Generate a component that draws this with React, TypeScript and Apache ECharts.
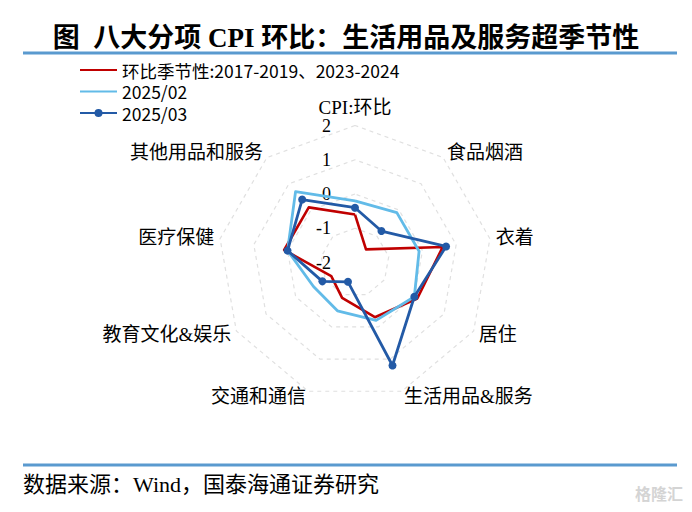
import { useEffect, useRef } from "react";
import * as echarts from "echarts";

// indicators clockwise from the top, as in the source figure
const indicatorNames = [
  "CPI:环比",
  "食品烟酒",
  "衣着",
  "居住",
  "生活用品&服务",
  "交通和通信",
  "教育文化&娱乐",
  "医疗保健",
  "其他用品和服务",
];
const seriesNames = ["环比季节性:2017-2019、2023-2024", "2025/02", "2025/03"];
const seasonal = [-0.6, -1.5, 0.6, 0.1, -0.3, -0.9, -1.2, 0.1, 0.1];
const feb2025 = [-0.2, -0.1, -0.1, 0.0, -0.2, -0.5, -0.6, 0.0, 0.7];
const mar2025 = [-0.4, -0.8, 0.7, 0.0, 1.2, -1.4, -0.9, 0.0, 0.4];
const axisTicks = [-2, -1, 0, 1, 2];

const SERIF = "'Liberation Serif', 'Noto Sans CJK SC', serif";
const NARROW = "'Liberation Sans Narrow', 'Noto Sans CJK SC', sans-serif";
const RED = "#c00000";
const LIGHT = "#62bbe8";
const DARK = "#235aa6";
const RULE = "#5a9acf";

// echarts lays radar indicators out counter-clockwise, so flip the order after the first
const order = [0, 8, 7, 6, 5, 4, 3, 2, 1];
const pick = <T,>(arr: T[]) => order.map((i) => arr[i]);

const lineIcon = "path://M0,0 L0.01,0 L0,0.01 Z M0,3.5 L37,3.5 L37,5.5 L0,5.5 Z M37,9 L36.99,9 L37,8.99 Z";
const dotIcon =
  "path://M0,0 L0.01,0 L0,0.01 Z M0,3.5 L37,3.5 L37,5.5 L0,5.5 Z M14.5,4.5 A4,4 0 1 1 22.5,4.5 A4,4 0 1 1 14.5,4.5 Z M37,9 L36.99,9 L37,8.99 Z";

export default function App() {
  const ref = useRef<HTMLDivElement>(null);

  useEffect(() => {
    document.body.style.margin = "0";
    const el = ref.current;
    if (!el) return;
    const chart = echarts.init(el, undefined, { renderer: "svg" });
    chart.setOption({
      animation: false,
      backgroundColor: "#fff",
      title: {
        text: "图  八大分项 CPI 环比：生活用品及服务超季节性",
        left: "center",
        top: 19,
        textStyle: { fontFamily: SERIF, fontWeight: "bold", fontSize: 27, color: "#000" },
      },
      legend: {
        orient: "vertical",
        left: 75,
        top: 56,
        itemWidth: 37,
        itemHeight: 9,
        itemGap: 3.5,
        textStyle: { fontFamily: NARROW, fontSize: 17.5, color: "#000", lineHeight: 18 },
        data: [
          { name: seriesNames[0], icon: lineIcon },
          { name: seriesNames[1], icon: lineIcon },
          { name: seriesNames[2], icon: dotIcon },
        ],
      },
      radar: {
        center: [355, 262.5],
        radius: 137,
        startAngle: 90,
        splitNumber: axisTicks.length - 1,
        shape: "polygon",
        nameGap: 6,
        axisName: { color: "#000", fontFamily: SERIF, fontSize: 19, lineHeight: 17 },
        indicator: pick(indicatorNames.map((_, i) => i)).map((i) => ({
          name: indicatorNames[i],
          min: axisTicks[0],
          max: axisTicks[axisTicks.length - 1],
          axisLabel: { show: i === 0 },
        })),
        axisLine: { show: false },
        axisTick: { show: false },
        axisLabel: {
          show: false,
          showMinLabel: true,
          showMaxLabel: true,
          margin: 24,
          color: "#000",
          fontFamily: SERIF,
          fontSize: 18,
          lineHeight: 14,
        },
        splitLine: { lineStyle: { color: "#e0e0e0", width: 1.2, type: [4, 4] } },
        splitArea: { show: false },
      },
      series: [
        {
          type: "radar",
          data: [
            {
              name: seriesNames[0],
              value: pick(seasonal),
              symbol: "none",
              lineStyle: { color: RED, width: 2.6 },
              itemStyle: { color: RED },
            },
            {
              name: seriesNames[1],
              value: pick(feb2025),
              symbol: "none",
              lineStyle: { color: LIGHT, width: 2.8 },
              itemStyle: { color: LIGHT },
            },
            {
              name: seriesNames[2],
              value: pick(mar2025),
              symbol: "circle",
              symbolSize: 8,
              lineStyle: { color: DARK, width: 2.8 },
              itemStyle: { color: DARK },
            },
          ],
        },
      ],
      graphic: [
        { type: "line", shape: { x1: 23, y1: 53, x2: 677, y2: 53 }, style: { stroke: RULE, lineWidth: 3 } },
        { type: "line", shape: { x1: 23, y1: 465, x2: 677, y2: 465 }, style: { stroke: RULE, lineWidth: 3 } },
        {
          type: "text",
          x: 23,
          y: 484,
          style: {
            text: "数据来源：Wind，国泰海通证券研究",
            font: `22px ${SERIF}`,
            fill: "#000",
            verticalAlign: "middle",
          },
        },
        {
          type: "text",
          x: 683,
          y: 493,
          style: {
            text: "格隆汇",
            font: `bold 16px 'Noto Sans CJK SC', sans-serif`,
            fill: "#d4d4d4",
            align: "right",
            verticalAlign: "middle",
          },
        },
      ],
    });
    return () => chart.dispose();
  }, []);

  return <div ref={ref} style={{ width: 692, height: 512 }} />;
}
